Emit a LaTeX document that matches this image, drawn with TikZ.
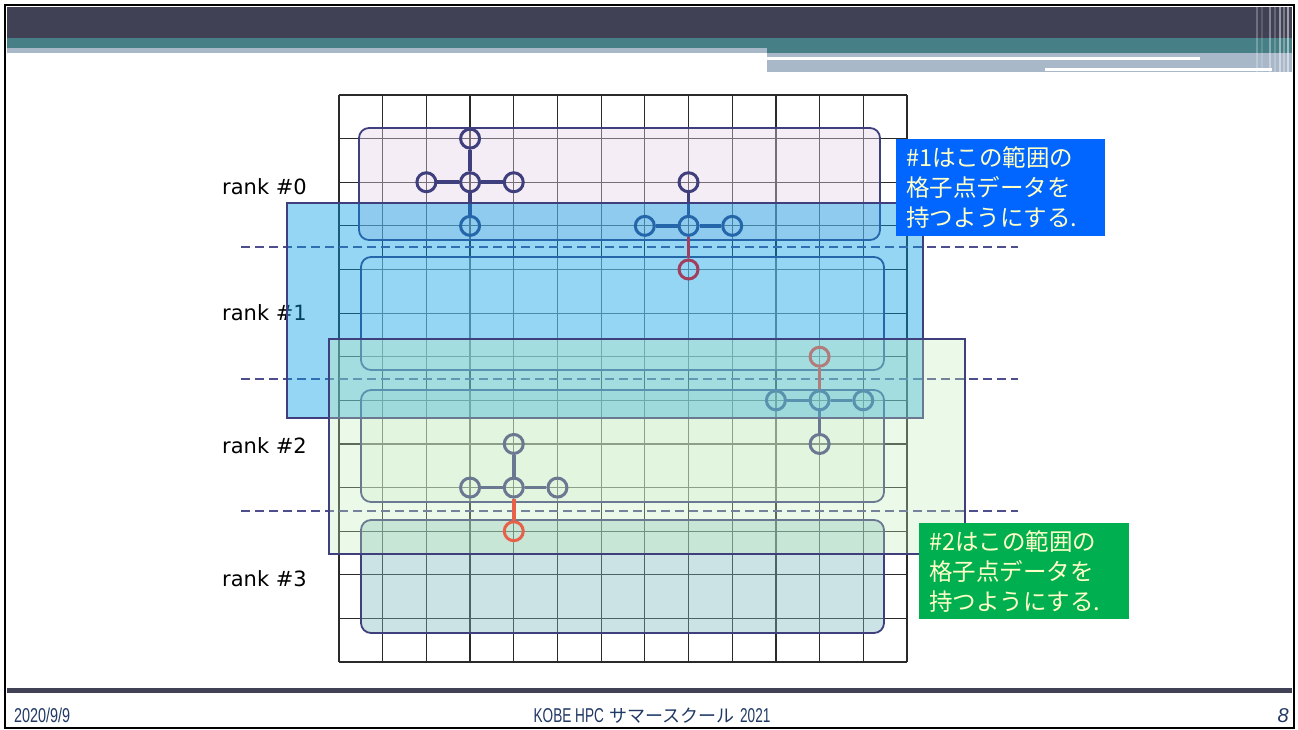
\documentclass[tikz,border=0pt]{standalone}
\usepackage{fontspec}
\newfontfamily\labelfont{DejaVu Sans}
\newfontfamily\jpfont{Noto Sans CJK JP}
\newfontfamily\footfont{Liberation Sans}
\definecolor{navy}{HTML}{3F3F7E}
\definecolor{cutnavy}{HTML}{4E4E8C}
\definecolor{gridgrey}{HTML}{2A2A2A}
\definecolor{headdark}{HTML}{414155}
\definecolor{headteal}{HTML}{467F86}
\definecolor{headsteel}{HTML}{A9B8C9}
\definecolor{footblue}{HTML}{1F3864}
\definecolor{rankpink}{HTML}{E8D4E8}
\definecolor{rankblue}{HTML}{FFFFFF}
\definecolor{rankgreen}{HTML}{E2F2E0}
\definecolor{ranksea}{HTML}{80B9BF}
\definecolor{haloblue}{HTML}{009EE5}
\definecolor{halogreen}{HTML}{C2EDBA}
\definecolor{notetext}{HTML}{FFFFC8}
\definecolor{noteblue}{HTML}{0066FF}
\definecolor{notegreen}{HTML}{00B050}
\definecolor{redone}{HTML}{A23E5E}
\definecolor{redtwo}{HTML}{B27C7A}
\definecolor{redthree}{HTML}{E8604A}

\begin{document}
\begin{tikzpicture}[x=1pt,y=-1pt,
    lattice/.style={shift={(339,95)},x=43.69pt,y=-43.62pt},
    gridline/.style={draw=gridgrey,line width=1.2pt},
    rankbox/.style={draw=navy,line width=1.8pt,rounded corners=10pt,fill opacity=0.4},
    halo/.style={draw=navy,line width=1.6pt},
    rankcut/.style={draw=cutnavy,line width=2.4pt,dash pattern=on 9pt off 5pt},
    gpoint/.style={circle,draw=#1,line width=3pt,minimum size=19pt,inner sep=0pt},
    gpoint/.default=navy,
    arm/.style={draw=#1,line width=3.5pt},
    arm/.default=navy,
    ranklabel/.style={anchor=base west,inner sep=0pt,font=\labelfont\fontsize{21}{24}\selectfont},
    notebox/.style={anchor=north west,text=notetext,align=left,text width=189pt,inner xsep=10pt,inner ysep=0pt,minimum height=97pt,font=\jpfont\fontsize{23.5}{30}\selectfont},
    foot/.style={inner sep=0pt,text=footblue,font=\footfont\fontsize{20}{22}\selectfont}]
    \useasboundingbox (0,0) rectangle (1298,729);
    \fill[white] (0,0) rectangle (1298,729);

    % slide header
    \fill[headdark] (7,7) rectangle (1292,38);
    \fill[headteal] (7,38) rectangle (1292,48);
    \fill[headteal] (767,48) rectangle (1292,53);
    \fill[headsteel] (7,48) rectangle (767,53);
    \fill[headsteel] (767,53) rectangle (1292,72);
    \fill[white] (767,57) rectangle (1200,60);
    \fill[white] (1045,68) rectangle (1272,71);
    \foreach \sx/\so in {1257/0.25,1262/0.15,1270/0.35,1275/0.2,1280/0.45,1284/0.3,1288/0.5}
      \draw[white,opacity=\so,line width=2pt] (\sx,7) -- (\sx,72);

    % slide footer
    \fill[headdark] (7,688) rectangle (1292,693);
    \node[foot,anchor=base west] (date) at (14,722) {\scalebox{0.72}[1]{2020/9/9}};
    \node[foot,anchor=base] (event) at (652,722) {\scalebox{0.68}[1]{KOBE HPC}\ {\jpfont\fontsize{18}{20}\selectfont サマースクール}\ \scalebox{0.68}[1]{2021}};
    \node[foot,anchor=base east] (page) at (1289,722) {\itshape 8};
    \draw[black,line width=2.5pt] (5,5) rectangle (1294,728);

    % lattice
    \begin{scope}[lattice]
      \foreach \i in {0,...,13} {
        \draw[gridline] (\i,0) -- (\i,13);
        \draw[gridline] (0,\i) -- (13,\i);
      }
    \end{scope}

    % domains of the ranks
    \draw[rankbox,fill=rankpink] (359,128) rectangle (880,240);
    \draw[rankbox,fill=rankblue] (361,257) rectangle (884,370);
    \draw[rankbox,fill=rankgreen] (361,390) rectangle (884,502);
    \draw[rankbox,fill=ranksea] (361,520) rectangle (884,633);

    \node[ranklabel] (r0) at (222,194) {rank \#0};
    \node[ranklabel] (r1) at (222,320) {rank \#1};
    \node[ranklabel] (r2) at (222,453) {rank \#2};
    \node[ranklabel] (r3) at (222,586) {rank \#3};

    % stencils
    \begin{scope}[lattice]
      \node[gpoint] (s1c) at (3,2) {};
      \node[gpoint] (s1w) at (2,2) {};
      \node[gpoint] (s1e) at (4,2) {};
      \node[gpoint] (s1n) at (3,1) {};
      \node[gpoint] (s1s) at (3,3) {};
      \draw[arm] (s1c) -- (s1w);
      \draw[arm] (s1c) -- (s1e);
      \draw[arm] (s1c) -- (s1n);
      \draw[arm] (s1c) -- (s1s);

      \node[gpoint] (s2c) at (8,3) {};
      \node[gpoint] (s2w) at (7,3) {};
      \node[gpoint] (s2e) at (9,3) {};
      \node[gpoint] (s2n) at (8,2) {};
      \draw[arm] (s2c) -- (s2w);
      \draw[arm] (s2c) -- (s2e);
      \draw[arm] (s2c) -- (s2n);

      \node[gpoint] (s3c) at (11,7) {};
      \node[gpoint] (s3w) at (10,7) {};
      \node[gpoint] (s3e) at (12,7) {};
      \node[gpoint] (s3s) at (11,8) {};
      \draw[arm] (s3c) -- (s3w);
      \draw[arm] (s3c) -- (s3e);
      \draw[arm] (s3c) -- (s3s);

      \node[gpoint] (s4c) at (4,9) {};
      \node[gpoint] (s4w) at (3,9) {};
      \node[gpoint] (s4e) at (5,9) {};
      \node[gpoint] (s4n) at (4,8) {};
      \draw[arm] (s4c) -- (s4w);
      \draw[arm] (s4c) -- (s4e);
      \draw[arm] (s4c) -- (s4n);
    \end{scope}

    % borders between ranks
    \draw[rankcut] (241,247) -- (1018,247);
    \draw[rankcut] (241,379) -- (1018,379);
    \draw[rankcut] (241,511) -- (1018,511);

    % halo regions of rank 1 and rank 2
    \draw[halo,fill=haloblue,fill opacity=0.42] (287,203) rectangle (923,418);
    \draw[halo,fill=halogreen,fill opacity=0.33] (329,339) rectangle (965,554);

    % points taken from the neighbour
    \begin{scope}[lattice]
      \node[gpoint=redone] (s2s) at (8,4) {};
      \draw[arm=redone] (s2c) -- (s2s);
      \node[gpoint=redtwo] (s3n) at (11,6) {};
      \draw[arm=redtwo] (s3c) -- (s3n);
      \node[gpoint=redthree] (s4s) at (4,10) {};
      \draw[arm=redthree] (s4c) -- (s4s);
    \end{scope}

    \node[notebox,fill=noteblue,minimum width=209pt] (note1) at (896,139) {\#1はこの範囲の\\格子点データを\\持つようにする.};
    \node[notebox,fill=notegreen,minimum width=210pt,text width=190pt,minimum height=96pt] (note2) at (919,523) {\#2はこの範囲の\\格子点データを\\持つようにする.};
\end{tikzpicture}
\end{document}
